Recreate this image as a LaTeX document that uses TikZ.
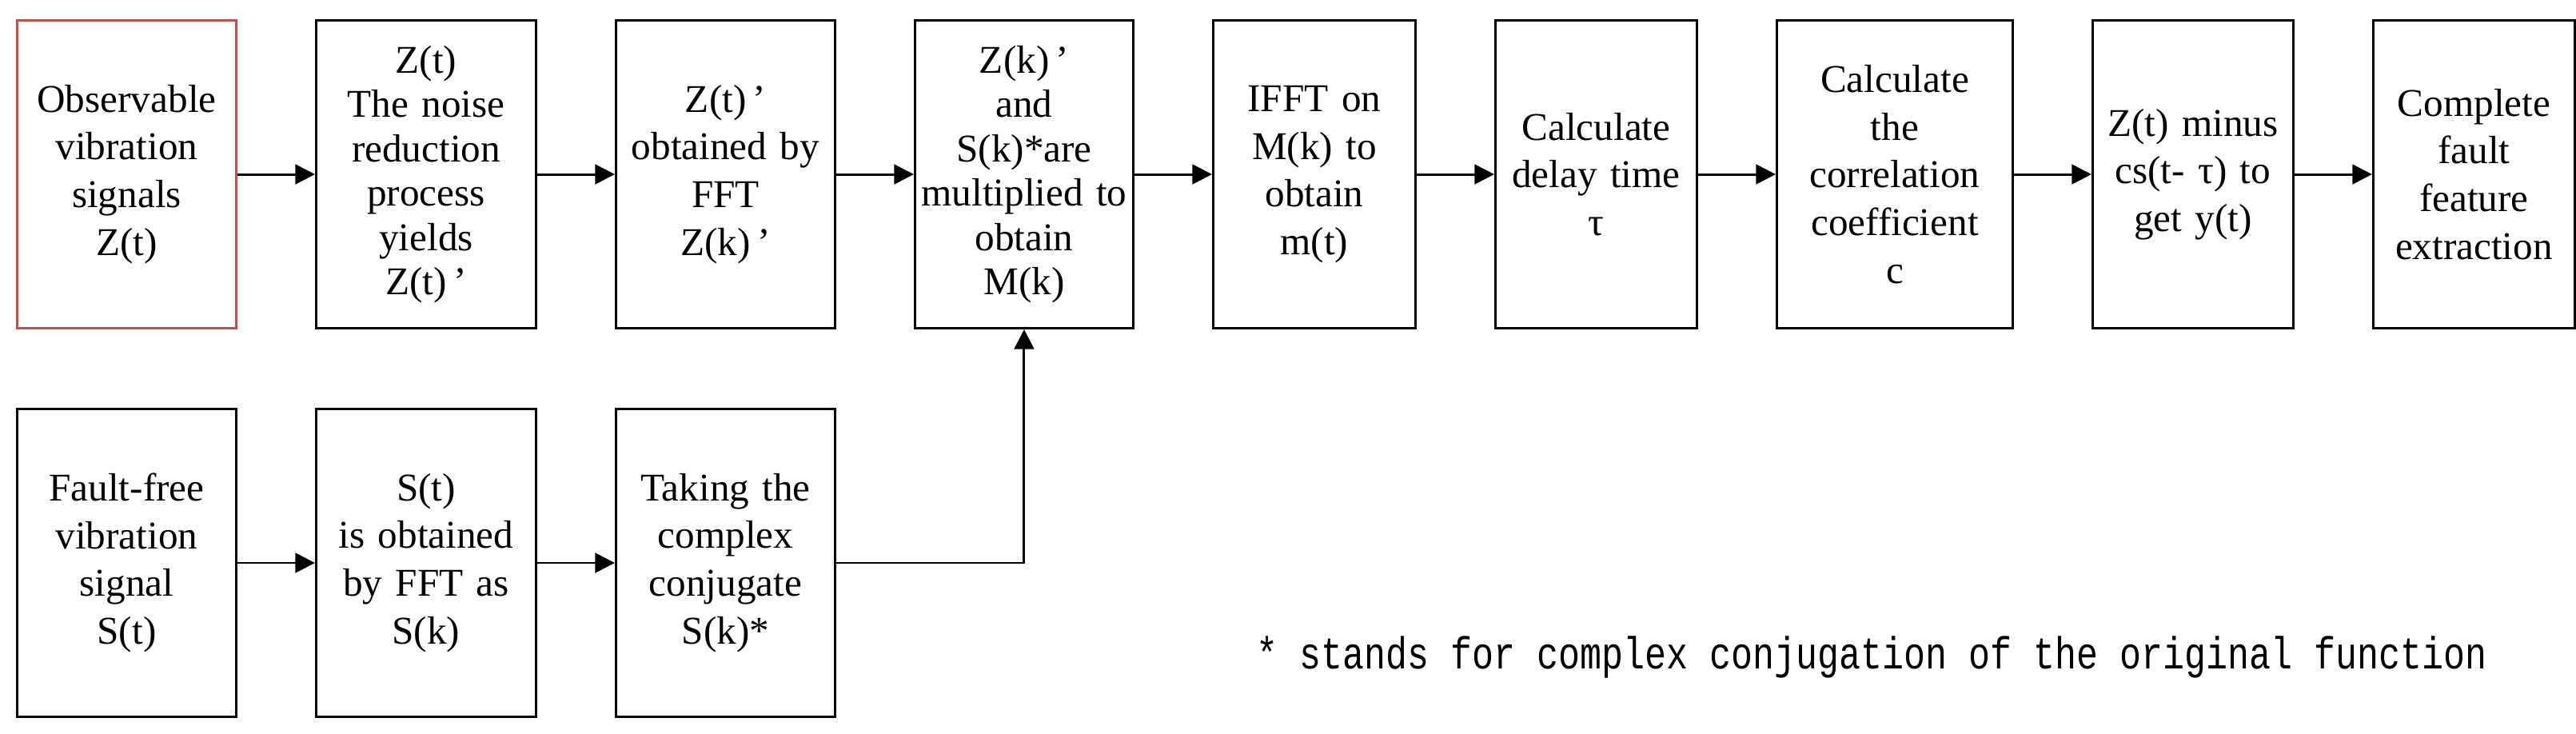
\documentclass[tikz,border=0pt]{standalone}
\usepackage{fontspec}
\setmainfont{Liberation Serif}
\newfontfamily\notefont[FakeStretch=0.8]{Liberation Mono}
\usetikzlibrary{positioning,arrows.meta}

\begin{document}
\begin{tikzpicture}[
    box/.style={draw, line width=0.85pt, minimum height=3.85cm, inner sep=0pt,
        align=center, font=\fontsize{14}{17}\selectfont},
    boxw/.style={box, text width=#1},
    tight/.style={font=\fontsize{14}{15.8}\selectfont},
    arrow/.style={line width=0.85pt, -{Triangle[length=7pt,width=7pt]}},
    node distance=0.97cm
]
    % Define colors
    \definecolor{startred}{RGB}{192, 80, 77}

    \useasboundingbox (0,0) rectangle (32.22,-9.17);

    % Draw measured signal chain
    \node[boxw=2.74cm, draw=startred, anchor=north west] (obs) at (0.20,-0.24) {Observable\\vibration\\signals\\Z(t)};
    \node[boxw=2.75cm, tight, right=of obs] (denoise) {Z(t)\\The noise\\reduction\\process\\yields\\Z(t)\,’};
    \node[boxw=2.74cm, right=of denoise] (fftz) {Z(t)\,’\\obtained by\\FFT\\Z(k)\,’};
    \node[boxw=2.73cm, tight, right=of fftz] (mult) {Z(k)\,’\\and\\S(k)*are\\multiplied to\\obtain\\M(k)};
    \node[boxw=2.53cm, right=of mult] (ifft) {IFFT on\\M(k) to\\obtain\\m(t)};
    \node[boxw=2.52cm, right=of ifft] (delay) {Calculate\\delay time\\τ};
    \node[boxw=2.95cm, right=of delay] (corr) {Calculate\\the\\correlation\\coefficient\\c};
    \node[boxw=2.51cm, right=of corr] (minus) {Z(t) minus\\cs(t- τ) to\\get y(t)};
    \node[boxw=2.52cm, right=of minus] (extract) {Complete\\fault\\feature\\extraction};

    % Draw reference signal chain
    \node[boxw=2.74cm, below=0.98cm of obs] (free) {Fault-free\\vibration\\signal\\S(t)};
    \node[boxw=2.75cm, below=0.98cm of denoise] (ffts) {S(t)\\is obtained\\by FFT as\\S(k)};
    \node[boxw=2.74cm, below=0.98cm of fftz] (conj) {Taking the\\complex\\conjugate\\S(k)*};

    % Add footnote
    \node[font=\notefont\fontsize{16}{18}\selectfont, anchor=base] (note) at (23.41,-8.36)
        {* stands for complex conjugation of the original function};

    % Draw arrows
    \foreach \a/\b in {obs/denoise, denoise/fftz, fftz/mult, mult/ifft, ifft/delay,
                       delay/corr, corr/minus, minus/extract, free/ffts, ffts/conj}
        \draw[arrow] (\a) -- (\b);
    \draw[arrow] (conj.east) -| (mult.south);
\end{tikzpicture}
\end{document}
